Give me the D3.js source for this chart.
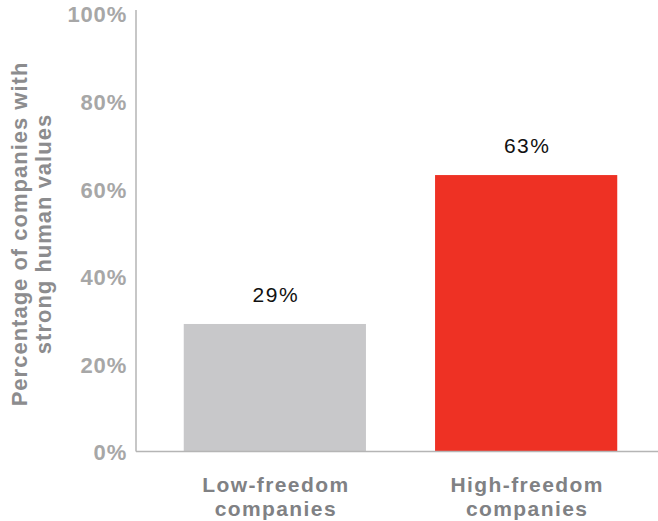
<!DOCTYPE html>
<html>
<head>
<meta charset="utf-8">
<script src="https://cdn.jsdelivr.net/npm/d3@7"></script>
<style>
  html, body { margin: 0; padding: 0; background: #fff; }
  svg { display: block; font-family: "Liberation Sans", Arial, Helvetica, sans-serif; }
</style>
</head>
<body>
<svg id="chart" width="658" height="521"></svg>
<script>
// Share of companies with strong human values, by freedom level
const categories = ["Low-freedom companies", "High-freedom companies"];
const categoryLines = [["Low-freedom", "companies"], ["High-freedom", "companies"]];
const values = [29, 63];
const barColors = ["#c8c8ca", "#ee3124"];
const tickValues = [0, 20, 40, 60, 80, 100];
const yTitle = ["Percentage of companies with", "strong human values"];

const svg = d3.select("#chart");
const W = 658;
const axisX = 136;
const plotBottom = 451;

const x = d3.scaleBand()
  .domain(categories)
  .range([axisX, 665])
  .paddingInner(0.275)
  .paddingOuter(0.19);

const y = d3.scaleLinear().domain([0, 100]).range([plotBottom, 13]);

// Bars
svg.selectAll("rect.bar")
  .data(values)
  .join("rect")
  .attr("class", "bar")
  .attr("x", (d, i) => x(categories[i]))
  .attr("width", x.bandwidth())
  .attr("y", d => y(d))
  .attr("height", d => y(0) - y(d))
  .attr("fill", (d, i) => barColors[i]);

// Value labels above bars
svg.selectAll("text.val")
  .data(values)
  .join("text")
  .attr("class", "val")
  .attr("x", (d, i) => x(categories[i]) + x.bandwidth() / 2 + 1)
  .attr("y", d => y(d) - 22)
  .attr("text-anchor", "middle")
  .attr("font-size", 21)
  .attr("letter-spacing", 1.5)
  .attr("fill", "#111")
  .text(d => d + "%");

// Y axis tick labels
const yAxis = d3.axisLeft(y)
  .tickValues(tickValues)
  .tickFormat(d => d + "%")
  .tickSize(0)
  .tickPadding(9);

const gy = svg.append("g")
  .attr("transform", `translate(${axisX},0)`)
  .call(yAxis);
gy.select(".domain").remove();
gy.selectAll("text")
  .attr("font-family", "Liberation Sans, Arial, sans-serif")
  .attr("font-size", 22)
  .attr("font-weight", "bold")
  .attr("letter-spacing", 0.8)
  .attr("dy", "0.4em")
  .attr("fill", "#a7a7a7");

// Axis lines
svg.append("line")
  .attr("x1", axisX).attr("x2", axisX)
  .attr("y1", 10).attr("y2", plotBottom + 0.5)
  .attr("stroke", "#b5b5b5").attr("stroke-width", 1.5);
svg.append("line")
  .attr("x1", axisX).attr("x2", W)
  .attr("y1", plotBottom + 0.5).attr("y2", plotBottom + 0.5)
  .attr("stroke", "#b5b5b5").attr("stroke-width", 1.5);

// Category labels, two lines each
const cat = svg.selectAll("text.cat")
  .data(categoryLines)
  .join("text")
  .attr("class", "cat")
  .attr("x", (d, i) => x(categories[i]) + x.bandwidth() / 2 + 1)
  .attr("y", 492)
  .attr("text-anchor", "middle")
  .attr("font-size", 21)
  .attr("font-weight", "bold")
  .attr("letter-spacing", 1.4)
  .attr("fill", "#808184");
cat.selectAll("tspan")
  .data(d => d)
  .join("tspan")
  .attr("x", function () { return this.parentNode.getAttribute("x"); })
  .attr("dy", (d, i) => i === 0 ? 0 : 24)
  .text(d => d);

// Y axis title
const title = svg.append("text")
  .attr("transform", "translate(27,234) rotate(-90)")
  .attr("text-anchor", "middle")
  .attr("font-size", 22)
  .attr("font-weight", "bold")
  .attr("letter-spacing", 1)
  .attr("fill", "#8c8c8e");
title.selectAll("tspan")
  .data(yTitle)
  .join("tspan")
  .attr("x", 0)
  .attr("dy", (d, i) => i === 0 ? 0 : 24)
  .text(d => d);
</script>
</body>
</html>
